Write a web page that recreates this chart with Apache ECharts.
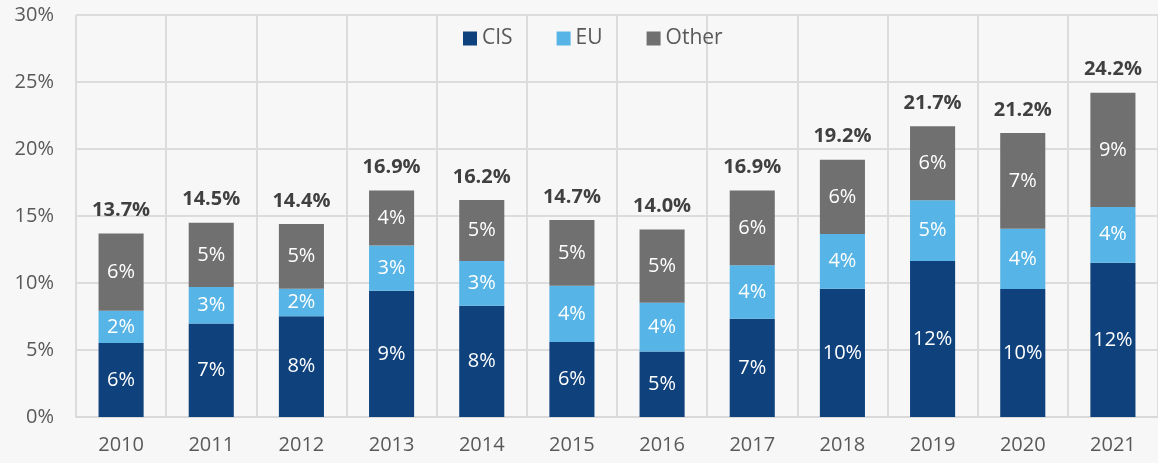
<!DOCTYPE html>
<html>
<head>
<meta charset="utf-8">
<script src="https://cdn.jsdelivr.net/npm/echarts@6/dist/echarts.min.js"></script>
<style>
  html, body { margin: 0; padding: 0; background: #f7f7f7; }
  #chart { width: 1158px; height: 463px; }
</style>
</head>
<body>
<div id="chart"></div>
<script>
const years = ["2010", "2011", "2012", "2013", "2014", "2015", "2016", "2017", "2018", "2019", "2020", "2021"];
// shares in %
const cis = [5.52, 6.98, 7.52, 9.42, 8.3, 5.59, 4.89, 7.33, 9.57, 11.65, 9.55, 11.52];
const eu = [2.41, 2.72, 2.05, 3.37, 3.35, 4.21, 3.64, 3.99, 4.09, 4.53, 4.49, 4.16];
const other = [5.77, 4.8, 4.83, 4.11, 4.55, 4.9, 5.47, 5.58, 5.54, 5.52, 7.16, 8.52];
const totals = [13.7, 14.5, 14.4, 16.9, 16.2, 14.7, 14.0, 16.9, 19.2, 21.7, 21.2, 24.2];

const font = "Open Sans";
const inside = {
  show: true,
  position: "inside",
  color: "#fff",
  fontFamily: font,
  fontSize: 20,
  formatter: (p) => Math.round(p.value) + "%",
};

const chart = echarts.init(document.getElementById("chart"));
chart.setOption({
  backgroundColor: "#f7f7f7",
  animation: false,
  grid: { left: 76, right: -8, top: 15, bottom: 46 },
  legend: {
    data: ["CIS", "EU", "Other"],
    left: 458,
    top: 23,
    itemWidth: 14,
    itemHeight: 14,
    itemGap: 44,
    icon: "rect",
    textStyle: { color: "#595959", fontFamily: font, fontSize: 21 },
  },
  xAxis: {
    type: "category",
    data: years,
    axisTick: { show: false },
    axisLine: { lineStyle: { color: "#d9d9d9", width: 2 } },
    axisLabel: { color: "#595959", fontFamily: font, fontSize: 20, margin: 18 },
    splitLine: { show: true, lineStyle: { color: "#dcdcdc", width: 2 } },
  },
  yAxis: {
    type: "value",
    min: 0,
    max: 30,
    interval: 5,
    axisLine: { show: false },
    axisTick: { show: false },
    axisLabel: { color: "#595959", fontFamily: font, fontSize: 20, margin: 22, formatter: "{value}%" },
    splitLine: { lineStyle: { color: "#dcdcdc", width: 2 } },
  },
  series: [
    { name: "CIS", type: "bar", stack: "s", barWidth: "50%", data: cis, itemStyle: { color: "#0f417c" }, label: inside },
    { name: "EU", type: "bar", stack: "s", data: eu, itemStyle: { color: "#56b5e6" }, label: inside },
    { name: "Other", type: "bar", stack: "s", data: other, itemStyle: { color: "#707070" }, label: inside },
    {
      name: "Total",
      type: "bar",
      stack: "s",
      data: totals.map(() => 0),
      itemStyle: { color: "transparent" },
      label: {
        show: true,
        position: "top",
        distance: 13,
        color: "#404040",
        fontWeight: "bold",
        fontFamily: font,
        fontSize: 20,
        formatter: (p) => totals[p.dataIndex].toFixed(1) + "%",
      },
    },
  ],
});
</script>
</body>
</html>
